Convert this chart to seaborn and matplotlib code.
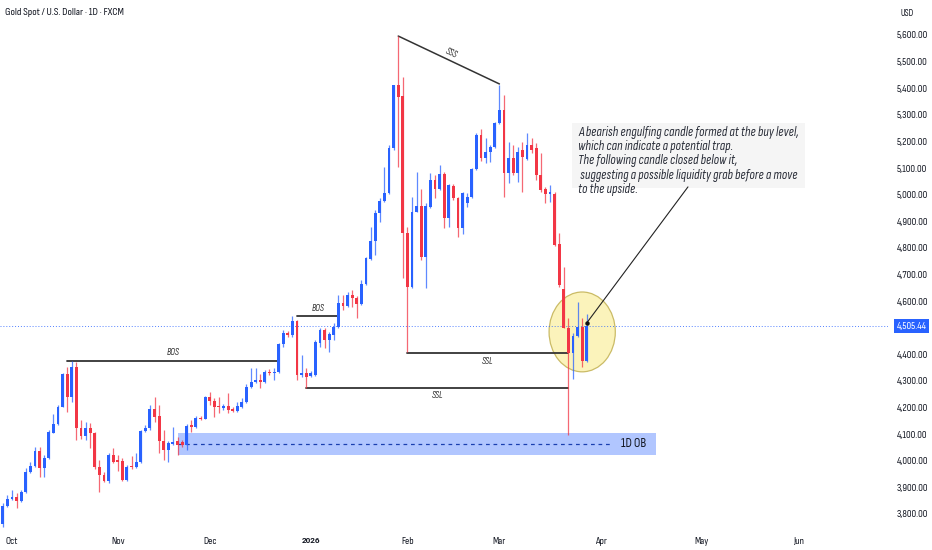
import numpy as np
import pandas as pd
import seaborn as sns
import matplotlib
matplotlib.use("Agg")
import matplotlib.pyplot as plt
from matplotlib.patches import Rectangle, Ellipse

# Daily OHLC (Sep 29 2025 -> Mar 27 2026)
first_day = "2025-09-29"
holidays = ["2025-12-25", "2026-01-01"]
axis_end = "2026-07-31"

opens = [3762, 3830, 3856, 3864, 3849, 3882, 3958, 3980, 4037, 3973,
         4010, 4104, 4138, 4202, 4326, 4240, 4352, 4123, 4093, 4123,
         4104, 3976, 3946, 3924, 4022, 4003, 3999, 3928, 3980, 3976,
         3995, 4112, 4123, 4194, 4168, 4074, 4040, 4063, 4074, 4070,
         4059, 4134, 4127, 4161, 4157, 4240, 4225, 4206, 4198, 4206,
         4194, 4187, 4202, 4221, 4277, 4296, 4303, 4296, 4333, 4330,
         4333, 4439, 4480, 4473, 4525, 4322, 4330, 4318, 4322, 4442,
         4491, 4454, 4473, 4503, 4593, 4582, 4623, 4612, 4589, 4664,
         4758, 4826, 4931, 4976, 5006, 5175, 5412, 5371, 4856, 4653,
         4935, 4957, 4766, 4953, 5055, 5021, 5078, 4912, 5032, 4987,
         4875, 4968, 4991, 5096, 5224, 5138, 5160, 5179, 5269, 5318,
         5081, 5138, 5081, 5168, 5134, 5187, 5175, 5074, 5021, 5002,
         5002, 4815, 4645, 4499, 4405, 4469, 4503, 4375]
highs = [3841, 3871, 3890, 3879, 3890, 3973, 3995, 4052, 4052, 4021,
         4116, 4176, 4209, 4330, 4352, 4375, 4371, 4153, 4146, 4142,
         4108, 4003, 3958, 4029, 4048, 4021, 4010, 3984, 4018, 4029,
         4116, 4134, 4209, 4240, 4209, 4116, 4074, 4127, 4089, 4078,
         4138, 4153, 4168, 4168, 4243, 4258, 4236, 4240, 4213, 4255,
         4202, 4221, 4236, 4288, 4348, 4348, 4326, 4341, 4345, 4348,
         4442, 4491, 4488, 4544, 4529, 4397, 4348, 4337, 4454, 4499,
         4499, 4484, 4518, 4623, 4623, 4634, 4642, 4619, 4679, 4766,
         4878, 4942, 4987, 5104, 5187, 5412, 5596, 5442, 4878, 4991,
         5085, 5021, 4968, 5081, 5074, 5111, 5085, 5040, 5040, 4991,
         5010, 5006, 5100, 5232, 5247, 5213, 5187, 5273, 5412, 5374,
         5198, 5187, 5179, 5198, 5232, 5213, 5194, 5156, 5029, 5036,
         5010, 4856, 4728, 4536, 4480, 4597, 4536, 4552]
lows = [3751, 3826, 3852, 3822, 3845, 3879, 3954, 3976, 3939, 3939,
        4006, 4104, 4134, 4202, 4183, 4221, 4078, 4082, 4078, 4048,
        3970, 3882, 3920, 3916, 3991, 3961, 3925, 3925, 3969, 3972,
        3991, 4108, 4116, 4146, 4029, 4003, 3995, 4059, 4022, 4052,
        4040, 4108, 4123, 4153, 4157, 4209, 4164, 4179, 4191, 4179,
        4183, 4183, 4198, 4217, 4273, 4292, 4273, 4292, 4322, 4303,
        4330, 4427, 4465, 4465, 4303, 4315, 4273, 4315, 4318, 4427,
        4424, 4408, 4454, 4499, 4566, 4578, 4578, 4536, 4585, 4660,
        4754, 4773, 4897, 4972, 5002, 5168, 5104, 4687, 4409, 4649,
        4935, 4754, 4649, 4950, 4987, 5017, 4875, 4878, 4980, 4841,
        4852, 4953, 4987, 5092, 5126, 5119, 5123, 5175, 5265, 4991,
        5044, 5074, 5048, 5010, 5130, 5156, 5055, 5010, 4968, 4972,
        4807, 4653, 4499, 4097, 4307, 4465, 4352, 4371]
closes = [3830, 3856, 3864, 3849, 3882, 3958, 3980, 4037, 3973, 4010,
          4108, 4138, 4202, 4326, 4240, 4352, 4123, 4093, 4123, 4104,
          3976, 3946, 3924, 4022, 3995, 3995, 3928, 3976, 3976, 3995,
          4112, 4123, 4194, 4164, 4074, 4040, 4067, 4070, 4059, 4059,
          4131, 4127, 4161, 4157, 4240, 4225, 4202, 4202, 4206, 4191,
          4187, 4206, 4221, 4277, 4296, 4303, 4296, 4333, 4330, 4333,
          4439, 4480, 4473, 4525, 4322, 4330, 4315, 4330, 4446, 4491,
          4454, 4476, 4503, 4593, 4582, 4623, 4612, 4589, 4664, 4762,
          4826, 4931, 4976, 5006, 5175, 5412, 5367, 4856, 4653, 4935,
          4957, 4766, 4957, 5055, 5021, 5078, 4912, 5036, 4987, 4875,
          5006, 4991, 5096, 5224, 5138, 5160, 5179, 5269, 5318, 5081,
          5138, 5081, 5160, 5141, 5187, 5168, 5074, 5017, 5002, 5010,
          4811, 4660, 4499, 4405, 4469, 4503, 4375, 4505.44]

last_price = 4505.44
# 4,500 is hidden behind the last-price tag on the scale
y_ticks = [v for v in range(3800, 5601, 100) if v != 4500]
month_names = ["Oct", "Nov", "Dec", "2026", "Feb", "Mar", "Apr", "May", "Jun"]
title = "Gold Spot / U.S. Dollar · 1D · FXCM"

# Chart annotations (bar index, price)
bos_levels = [(14, 60, 4376), (64, 73, 4544)]
ssl_levels = [(88, 123, 4403, 105.5), (66, 123, 4273, 94.5)]
sss_line = (86, 5596, 108, 5416)
ob_zone = (38, 142, 4022, 4104)
note_lines = ["A bearish engulfing candle formed at the buy level,",
              "which can indicate a potential trap.",
              "The following candle closed below it,",
              " suggesting a possible liquidity grab before a move",
              "to the upside."]

# Trading-day axis
days = pd.bdate_range(first_day, axis_end)
days = days[~days.isin(pd.to_datetime(holidays))]
df = pd.DataFrame({"open": opens, "high": highs, "low": lows, "close": closes})
df["date"] = days[:len(df)]
df["idx"] = np.arange(len(df))
df["up"] = df["close"] >= df["open"]

month_first = pd.Series(np.arange(len(days)), index=days)
month_first = month_first[month_first.index >= "2025-10-01"]
tick_pos = month_first.groupby([month_first.index.year, month_first.index.month]).min().values[:len(month_names)]

sns.set_theme(style="white")
plt.rcParams['font.family'] = ['Liberation Sans Narrow', 'Sofia Sans Condensed', 'DejaVu Sans']
BLUE = '#2962ff'
RED = '#f23645'
INK = '#131722'

fig = plt.figure(figsize=(9.32, 5.5), dpi=100)
ax = fig.add_axes([0, 22 / 550, 888 / 932, 528 / 550])
renderer = fig.canvas.get_renderer()


def fit_size(s, target_px, **kw):
    # font size that gives the text the width it has in the screenshot
    t = fig.text(0, 0, s, fontsize=10, **kw)
    w = t.get_window_extent(renderer=renderer).width
    t.remove()
    return 10 * target_px / w


tick_fs = fit_size("5,600.00", 31.5)
title_fs = fit_size(title, 119)
note_fs = fit_size(note_lines[0], 221, style='italic')
tag_fs = fit_size("BOS", 13, style='italic')
ob_fs = fit_size("1D OB", 25)
year_fs = fit_size("2026", 19, family=['Roboto', 'DejaVu Sans'], fontweight='bold')

# Candles
colors = np.where(df["up"], BLUE, RED)
ax.vlines(df["idx"], df["low"], df["high"], colors=colors, lw=0.9, alpha=0.75, zorder=4)
body_lo = np.minimum(df["open"], df["close"])
body_h = np.maximum(np.abs(df["close"] - df["open"]), 3.5)
ax.bar(df["idx"], body_h, bottom=body_lo, width=0.62, color=colors, linewidth=0, zorder=5)

# Order block
ob = Rectangle((ob_zone[0], ob_zone[2]), ob_zone[1] - ob_zone[0], ob_zone[3] - ob_zone[2],
               facecolor=BLUE, alpha=0.36, edgecolor='none', zorder=2)
ax.add_patch(ob)
ob_mid = (ob_zone[2] + ob_zone[3]) / 2
ax.plot([ob_zone[0], ob_zone[1] - 10], [ob_mid, ob_mid], ls=(0, (3, 3)), color='#1a3fb0', lw=0.9, zorder=3)
ax.text(ob_zone[1] - 2, ob_mid, "1D OB", ha='right', va='center', fontsize=ob_fs, color=INK, zorder=6)

# Structure lines
for x0, x1, lvl in bos_levels:
    ax.plot([x0, x1], [lvl, lvl], color='#333333', lw=1.3, zorder=3)
    ax.text((x0 + x1) / 2, lvl + 12, "BOS", ha='center', va='bottom', fontsize=tag_fs,
            style='italic', color='#333333')
for x0, x1, lvl, lx in ssl_levels:
    ax.plot([x0, x1], [lvl, lvl], color='#333333', lw=1.3, zorder=3)
    ax.text(lx, lvl - 12, "SSL", ha='center', va='top', fontsize=tag_fs,
            style='italic', color='#333333')
ax.plot([sss_line[0], sss_line[2]], [sss_line[1], sss_line[3]], color='#333333', lw=1.1, zorder=3)
ax.text(97.5, 5530, "SSS", ha='center', va='center', fontsize=tag_fs,
        style='italic', color='#333333', rotation=-25)

# Highlight circle and note
ax.add_patch(Ellipse((126, 4484), 14.4, 300, facecolor='#fbf3b8', edgecolor='#c8b860',
                     lw=0.9, alpha=0.95, zorder=1))
ax.add_patch(Rectangle((123.7, 5025), 50.7, 244, facecolor='#f5f5f5', edgecolor='none', zorder=1))
ax.text(125.1, 5258, "\n".join(note_lines), ha='left', va='top', fontsize=note_fs, style='italic',
        color='#2a2e39', linespacing=1.12, zorder=6)
ax.plot([127, 149], [4518, 5029], color='#222222', lw=0.8, zorder=6)
ax.plot([127], [4518], 'o', color='#111111', ms=2.2, zorder=7)

# Last price line
ax.axhline(last_price, ls=(0, (1, 2)), color=BLUE, lw=0.7, alpha=0.8, zorder=2)

# Axes
ax.set_xlim(-0.6, 192.5)
ax.set_ylim(3747, 5731.5)
for s in ax.spines.values():
    s.set_visible(False)
ax.yaxis.tick_right()
ax.set_yticks(y_ticks)
ax.set_yticklabels([f"{v:,.2f}" for v in y_ticks])
ax.set_xticks(tick_pos)
ax.set_xticklabels(month_names)
ax.tick_params(axis='y', length=0, pad=6.3, labelsize=tick_fs, labelcolor=INK)
ax.tick_params(axis='x', length=0, pad=6.2, labelsize=tick_fs, labelcolor=INK)
for lab in ax.get_xticklabels():
    if lab.get_text() == "2026":
        lab.set_fontfamily(['Roboto', 'DejaVu Sans'])
        lab.set_fontweight('bold')
        lab.set_fontsize(year_fs)
ax.grid(False)

fig.text(5 / 932, 1 - 12.5 / 550, title, ha='left', va='center',
         fontsize=title_fs, color=INK, fontweight='semibold')
fig.text(907 / 932, 1 - 13 / 550, "USD", ha='center', va='center', fontsize=tick_fs * 0.9, color=INK)
fig.text(911.5 / 932, 1 - 326 / 550, f"{last_price:,.2f}", ha='center', va='center', fontsize=tick_fs,
         color='white', bbox=dict(boxstyle='square,pad=0.25', facecolor=BLUE, edgecolor='none'))

fig.savefig("out.png", dpi=100)
